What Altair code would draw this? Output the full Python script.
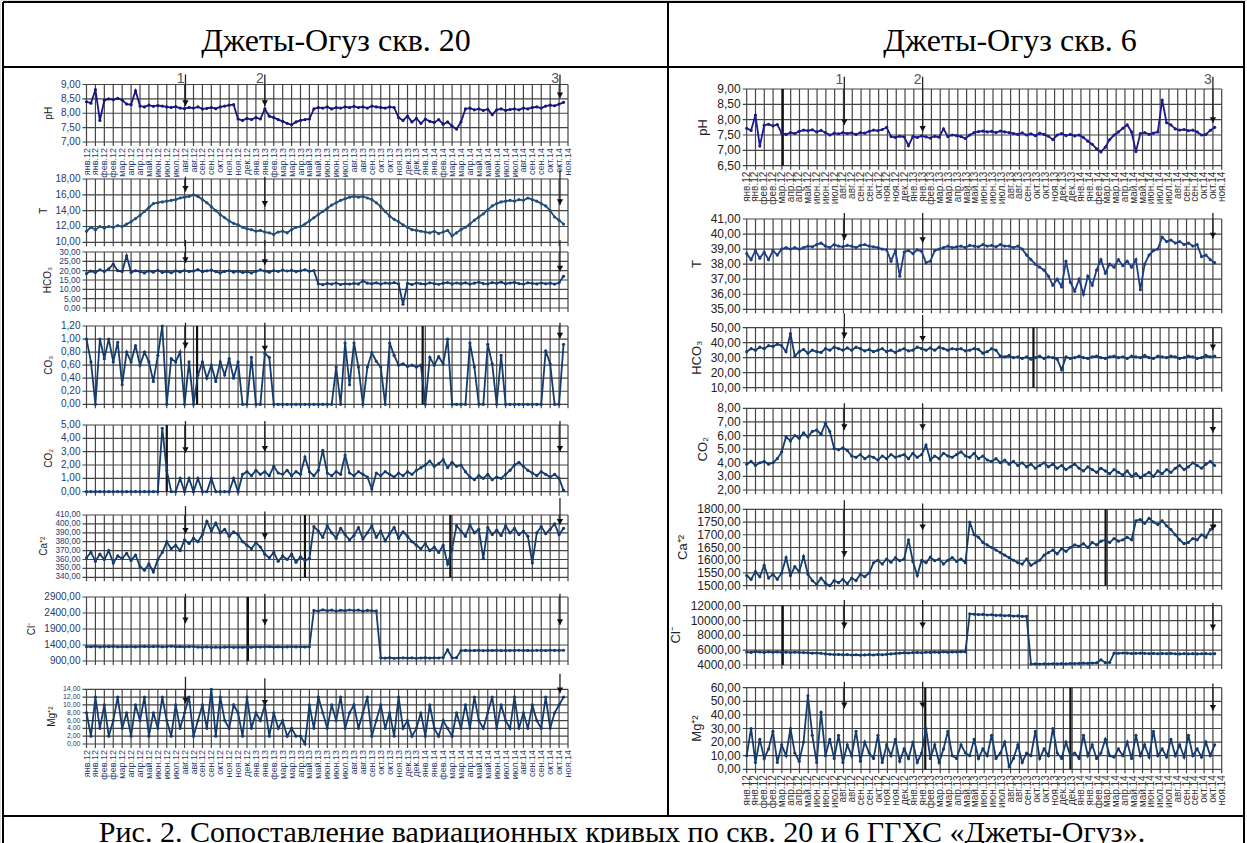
import altair as alt
import pandas as pd

W, H = 1247, 843
N_INT = 54  # grid steps along the date axis

MONTHS = ["янв.12", "янв.12", "фев.12", "фев.12", "мар.12", "апр.12", "апр.12", "май.12",
          "июн.12", "июн.12", "июл.12", "авг.12", "авг.12", "сен.12", "сен.12", "окт.12",
          "ноя.12", "ноя.12", "дек.12", "янв.13", "янв.13", "фев.13", "мар.13", "мар.13",
          "апр.13", "май.13", "май.13", "июн.13", "июн.13", "июл.13", "авг.13", "авг.13",
          "сен.13", "окт.13", "окт.13", "ноя.13", "дек.13", "дек.13", "янв.14", "янв.14",
          "фев.14", "мар.14", "мар.14", "апр.14", "май.14", "май.14", "июн.14", "июл.14",
          "июл.14", "авг.14", "сен.14", "сен.14", "окт.14", "окт.14", "ноя.14"]

HEAD_L = "Джеты-Огуз скв. 20"
HEAD_R = "Джеты-Огуз скв. 6"
CAPTION = "Рис. 2. Сопоставление вариационных кривых по скв. 20 и 6 ГГХС «Джеты-Огуз»."

# ---------------- скв. 20 ----------------
L_PH = [8.40, 8.35, 8.82, 7.75, 8.45, 8.50, 8.47, 8.52, 8.46, 8.32, 8.30, 8.78,
        8.25, 8.22, 8.28, 8.24, 8.27, 8.25, 8.22, 8.20, 8.23, 8.18, 8.16, 8.20,
        8.18, 8.22, 8.15, 8.17, 8.20, 8.16, 8.22, 8.25, 8.28, 8.30, 7.80, 7.75,
        7.82, 7.78, 7.85, 7.80, 8.15, 7.90, 7.85, 7.78, 7.72, 7.65, 7.60, 7.70,
        7.75, 7.78, 7.80, 8.15, 8.20, 8.18, 8.22, 8.15, 8.20, 8.18, 8.22, 8.20,
        8.24, 8.20, 8.22, 8.18, 8.25, 8.22, 8.20, 8.18, 8.22, 8.20, 7.85, 7.75,
        7.90, 7.70, 7.82, 7.65, 7.80, 7.72, 7.68, 7.78, 7.62, 7.70, 7.55, 7.45,
        7.70, 8.15, 8.18, 8.12, 8.15, 8.10, 8.14, 7.95, 8.12, 8.15, 8.10, 8.13,
        8.15, 8.12, 8.18, 8.15, 8.20, 8.22, 8.18, 8.25, 8.28, 8.26, 8.32, 8.38]
L_T = [11.4, 11.9, 11.6, 12.0, 11.8, 12.0, 11.9, 12.1, 12.0, 12.3, 12.6, 13.0,
       13.4, 13.9, 14.4, 14.9, 15.0, 15.1, 15.2, 15.3, 15.4, 15.6, 15.7, 15.8,
       16.0, 15.8, 15.4, 15.0, 14.5, 14.0, 13.5, 13.1, 12.7, 12.4, 12.2, 11.9,
       11.7, 11.6, 11.4, 11.5, 11.3, 11.2, 11.0, 11.3, 11.4, 11.2, 11.6, 11.9,
       12.0, 12.3, 12.7, 13.1, 13.5, 13.9, 14.3, 14.7, 15.0, 15.3, 15.5, 15.7,
       15.8, 15.7, 15.8, 15.6, 15.4, 15.0, 14.5, 13.9, 13.3, 12.9, 12.6, 12.2,
       11.9, 11.6, 11.5, 11.4, 11.3, 11.2, 11.4, 11.1, 11.3, 11.5, 10.8, 11.2,
       11.6, 11.9, 12.3, 12.8, 13.2, 13.6, 14.1, 14.6, 14.9, 15.1, 15.2, 15.3,
       15.2, 15.4, 15.3, 15.6, 15.4, 15.2, 14.9, 14.6, 14.0, 13.2, 12.8, 12.3]
L_HCO3 = [18.5, 19.8, 19.0, 20.5, 19.5, 21.0, 23.5, 20.0, 19.5, 28.0, 19.0, 20.0,
          19.5, 18.8, 19.8, 19.2, 20.2, 19.0, 19.6, 18.9, 19.9, 19.3, 20.1, 19.5,
          19.8, 20.6, 19.4, 19.9, 20.3, 19.5, 18.8, 19.6, 20.0, 19.2, 19.7, 19.0,
          19.4, 18.8, 19.6, 20.4, 19.8, 19.2, 20.0, 19.6, 20.3, 19.8, 20.2, 19.5,
          19.9, 20.5, 19.7, 20.0, 13.0, 12.5, 13.2, 12.8, 13.4, 12.6, 13.0, 12.8,
          13.2, 12.9, 14.5, 13.3, 13.0, 13.5, 12.8, 13.4, 13.1, 13.6, 12.9, 2.0,
          13.2, 12.6, 13.4, 13.0, 12.8, 13.5, 13.1, 12.7, 13.3, 13.6, 12.9, 13.4,
          13.0, 13.5, 12.8, 13.3, 13.8, 13.1, 12.9, 13.6, 13.2, 13.9, 13.0, 13.4,
          13.7, 13.1, 12.8, 13.5, 13.2, 12.9, 13.4, 13.0, 13.3, 12.8, 13.5, 17.0]
L_CO3 = [1.00, 0.65, 0.00, 1.00, 0.70, 1.00, 0.65, 0.95, 0.30, 0.80, 0.65, 0.90,
         0.60, 0.80, 0.65, 0.35, 0.75, 1.20, 0.00, 0.70, 0.65, 0.80, 0.00, 0.65,
         0.00, 0.45, 0.65, 0.40, 0.60, 0.35, 0.65, 0.45, 0.70, 0.40, 0.65, 0.00,
         0.00, 0.72, 0.00, 0.00, 0.78, 0.72, 0.00, 0.00, 0.00, 0.00, 0.00, 0.00,
         0.00, 0.00, 0.00, 0.00, 0.00, 0.00, 0.00, 0.00, 0.57, 0.00, 0.94, 0.30,
         0.94, 0.57, 0.00, 0.57, 0.79, 0.66, 0.57, 0.00, 0.94, 0.75, 0.60, 0.62,
         0.58, 0.60, 0.57, 0.60, 0.00, 0.72, 0.60, 0.73, 0.62, 1.00, 0.00, 0.00,
         0.00, 0.00, 0.94, 0.57, 0.00, 0.00, 0.92, 0.62, 0.00, 0.75, 0.00, 0.00,
         0.00, 0.00, 0.00, 0.00, 0.00, 0.00, 0.00, 0.82, 0.62, 0.00, 0.00, 0.92]
L_CO2 = [0, 0, 0, 0, 0, 0, 0, 0, 0, 0, 0, 0,
         0, 0, 0, 0, 0, 4.75, 1.6, 0, 0, 1.0, 0, 1.0,
         0, 1.0, 0, 0, 1.0, 0, 0, 0, 0, 1.0, 0, 1.3,
         1.5, 1.2, 1.6, 1.3, 1.5, 1.2, 1.9, 1.4, 1.3, 1.6, 1.2, 1.5,
         1.3, 2.6, 1.5, 1.2, 1.6, 3.1, 1.4, 1.2, 1.5, 1.3, 2.75, 1.4,
         1.2, 1.5, 1.3, 1.1, 0.2, 1.4, 1.2, 1.5, 1.3, 1.1, 1.4, 1.2,
         1.5, 1.3, 1.6, 1.8, 2.0, 2.3, 1.9, 2.1, 2.4, 1.8, 2.2, 1.9,
         2.0, 1.5, 1.1, 0.9, 1.2, 1.0, 1.3, 0.9, 1.1, 1.0, 1.3, 1.6,
         2.0, 2.2, 1.9, 1.6, 1.4, 1.2, 1.5, 1.3, 1.1, 1.3, 1.0, 0.1]
L_CA = [362, 368, 358, 366, 360, 370, 356, 364, 361, 367, 359, 365,
        352, 348, 355, 346, 360, 368, 380, 372, 376, 370, 382, 378,
        384, 380, 388, 403, 392, 401, 390, 394, 386, 391, 388, 380,
        376, 372, 379, 374, 366, 362, 368, 358, 364, 360, 366, 357,
        363, 359, 361, 397, 392, 385, 398, 390, 384, 395, 388, 382,
        387, 396, 383, 390, 398, 385, 392, 381, 389, 396, 384, 391,
        386, 380, 376, 372, 378, 370, 374, 368, 376, 355, 372, 398,
        392, 386, 399, 390, 394, 361, 396, 388, 393, 387, 398, 390,
        395, 388, 392, 386, 356, 390, 397, 389, 394, 400, 388, 395]
L_CL = [1350, 1345, 1360, 1340, 1352, 1348, 1355, 1342, 1350, 1346, 1352, 1340,
        1348, 1355, 1345, 1350, 1358, 1342, 1350, 1362, 1345, 1350, 1340, 1348,
        1352, 1335, 1330, 1340, 1328, 1335, 1325, 1332, 1340, 1328, 1335, 1330,
        1338, 1330, 1342, 1335, 1340, 1345, 1338, 1342, 1335, 1340, 1345, 1340,
        1342, 1338, 1345, 2480, 2460, 2500, 2470, 2490, 2460, 2485, 2470, 2495,
        2475, 2490, 2460, 2480, 2470, 2465, 1000, 990, 1005, 985, 995, 1000,
        990, 1000, 985, 995, 1005, 990, 1000, 995, 1010, 1250, 1000, 1005,
        1225, 1230, 1222, 1228, 1235, 1225, 1230, 1228, 1235, 1226, 1232, 1228,
        1230, 1235, 1228, 1232, 1226, 1234, 1230, 1228, 1236, 1230, 1232, 1235]
L_MG = [8, 2, 12, 4, 10, 2, 6, 12, 4, 8, 2, 10,
        6, 12, 2, 8, 4, 12, 6, 2, 10, 4, 8, 12,
        2, 6, 10, 4, 14, 2, 12, 6, 4, 10, 8, 2,
        12, 4, 8, 6, 10, 2, 8, 4, 6, 2, 4, 2,
        2, 0, 10, 4, 12, 8, 4, 10, 6, 12, 4, 8,
        10, 4, 8, 12, 2, 6, 10, 4, 8, 2, 12, 4,
        6, 2, 4, 8, 2, 10, 4, 2, 6, 4, 2, 8,
        4, 10, 4, 12, 6, 4, 8, 12, 4, 10, 6, 4,
        12, 4, 8, 4, 10, 6, 4, 12, 4, 8, 10, 12]

# ---------------- скв. 6 ----------------
R_PH = [7.72, 7.65, 8.15, 7.14, 7.82, 7.85, 7.80, 7.84, 7.56, 7.52, 7.58, 7.55,
        7.62, 7.66, 7.64, 7.67, 7.60, 7.65, 7.58, 7.50, 7.56, 7.54, 7.58, 7.55,
        7.57, 7.52, 7.58, 7.56, 7.62, 7.66, 7.64, 7.68, 7.75, 7.45, 7.42, 7.46,
        7.44, 7.15, 7.45, 7.42, 7.47, 7.44, 7.40, 7.46, 7.43, 7.70, 7.45, 7.50,
        7.48, 7.45, 7.39, 7.50, 7.58, 7.61, 7.63, 7.60, 7.62, 7.58, 7.63, 7.60,
        7.58, 7.55, 7.52, 7.57, 7.50, 7.54, 7.48, 7.56, 7.52, 7.46, 7.35, 7.50,
        7.55, 7.48, 7.52, 7.47, 7.50, 7.42, 7.30, 7.20, 7.05, 6.95, 7.10, 7.35,
        7.50, 7.60, 7.72, 7.83, 7.60, 6.96, 7.55, 7.58, 7.52, 7.56, 7.60, 8.64,
        7.90, 7.83, 7.70, 7.66, 7.68, 7.64, 7.66, 7.60, 7.50, 7.52, 7.65, 7.75]
R_T = [38.7, 38.3, 38.9, 38.4, 38.8, 38.3, 38.9, 38.6, 39.0, 39.1, 39.0, 39.1,
       39.0, 39.1, 39.2, 39.15, 39.3, 39.4, 39.2, 39.1, 39.3, 39.2, 39.15, 39.25,
       39.2, 39.1, 39.25, 39.3, 39.2, 39.15, 39.1, 39.0, 38.95, 38.2, 38.9, 37.2,
       38.8, 38.9, 38.7, 38.95, 38.85, 38.1, 38.2, 38.9, 39.0, 39.1, 39.2, 39.1,
       39.15, 39.2, 39.1, 39.25, 39.2, 39.15, 39.3, 39.2, 39.25, 39.15, 39.3, 39.2,
       39.2, 39.1, 39.2, 39.0, 38.6, 38.3, 38.0, 37.8, 37.6, 37.2, 36.6, 37.0,
       36.5, 38.2, 36.8, 36.2, 37.0, 36.0, 37.2, 36.6, 37.6, 38.3, 37.4, 38.0,
       37.8, 38.3, 37.9, 38.2, 37.8, 38.3, 36.3, 38.0, 38.6, 38.9, 39.0, 39.8,
       39.5, 39.6, 39.4, 39.5, 39.3, 39.4, 39.2, 39.3, 38.5, 38.6, 38.3, 38.1]
R_HCO3 = [34, 36, 35, 37, 36, 38, 37.5, 39, 38, 34, 46, 31,
          34, 35.5, 33, 35, 34, 33.5, 36, 35, 37, 36, 35, 36.5,
          35, 37, 36, 34.5, 35.5, 34, 35, 36, 34, 35, 33.5, 35,
          36, 34.5, 35, 37, 36, 35, 36.5, 35, 37, 36, 35, 36,
          35.5, 36, 34.5, 35, 36, 35.5, 33, 34, 36, 35, 31, 30.5,
          31.5, 30, 30.5, 29.5, 30.5, 29, 30, 31, 29.5, 30.5, 30, 29,
          22, 30.5, 29.5, 30, 31, 30, 29.5, 30.5, 31, 30, 29.5, 30.5,
          31, 30, 30.5, 29.5, 31, 30.5, 30, 31.5, 30, 29.5, 31, 30.5,
          30, 31, 30.5, 29.5, 30, 31, 30.5, 29.5, 30, 31.5, 30.5, 31]
R_CO2 = [3.9, 4.1, 3.8, 4.0, 4.1, 3.9, 4.0, 4.3, 4.8, 5.9, 5.6, 6.0,
         5.8, 6.2, 5.9, 6.3, 6.4, 6.1, 6.9, 6.3, 5.05, 4.95, 5.1, 4.9,
         4.5, 4.4, 4.6, 4.3, 4.5, 4.4, 4.2, 4.5, 4.3, 4.6, 4.4, 4.5,
         4.6, 4.3, 4.7, 4.4, 4.6, 5.3, 4.2, 4.5, 4.3, 4.7, 4.5, 4.4,
         4.6, 4.8, 4.5, 4.4, 4.7, 4.3, 4.5, 4.2, 4.1, 4.3, 4.0, 4.2,
         3.9, 4.1, 3.8, 4.0, 3.7, 3.9, 3.6, 3.8, 4.0, 3.7, 3.9, 3.6,
         3.8, 3.5, 3.7, 3.9, 3.6, 3.4, 3.7, 3.5, 3.3, 3.6, 3.4, 3.2,
         3.5, 3.3, 3.1, 3.4, 3.0, 3.2, 2.9, 3.1, 3.3, 3.0, 3.4, 3.2,
         3.5, 3.3, 3.6, 3.8, 3.5, 3.7, 4.0, 3.8, 3.6, 3.9, 4.1, 3.8]
R_CA = [1540, 1525, 1555, 1535, 1580, 1530, 1545, 1525, 1550, 1610, 1540, 1575,
        1555, 1615, 1545, 1520, 1505, 1530, 1510, 1500, 1520, 1512, 1525, 1508,
        1530, 1520, 1545, 1535, 1550, 1590, 1600, 1585, 1605, 1592, 1610, 1598,
        1605, 1680, 1595, 1540, 1600, 1590, 1612, 1598, 1605, 1585, 1600, 1610,
        1595, 1605, 1590, 1750, 1700, 1690, 1670, 1660, 1650, 1640, 1630, 1620,
        1610, 1600, 1590, 1585, 1605, 1580, 1590, 1600, 1620, 1630, 1640, 1625,
        1645, 1635, 1650, 1660, 1655, 1665, 1650, 1670, 1660, 1675, 1680, 1670,
        1685, 1675, 1680, 1690, 1680, 1755, 1760, 1745, 1765, 1750, 1740, 1755,
        1735, 1720, 1700, 1680, 1665, 1670, 1685, 1680, 1700, 1690, 1720, 1735]
R_CL = [5750, 5700, 5800, 5750, 5700, 5780, 5720, 5760, 5700, 5740, 5690, 5720,
        5700, 5680, 5650, 5600, 5620, 5580, 5500, 5450, 5400, 5420, 5380, 5400,
        5350, 5380, 5330, 5360, 5400, 5350, 5420, 5380, 5450, 5500, 5550, 5600,
        5650, 5620, 5680, 5700, 5650, 5720, 5700, 5750, 5700, 5780, 5720, 5760,
        5750, 5800, 5780, 10900, 10850, 10800, 10820, 10750, 10780, 10700, 10720, 10650,
        10680, 10600, 10620, 10550, 10580, 4130, 4150, 4120, 4160, 4140, 4170, 4150,
        4180, 4160, 4200, 4190, 4220, 4250, 4230, 4270, 4300, 4700, 4320, 4350,
        5600, 5580, 5620, 5600, 5550, 5580, 5600, 5570, 5540, 5560, 5520, 5550,
        5530, 5560, 5520, 5500, 5540, 5510, 5530, 5500, 5520, 5540, 5510, 5530]
R_MG = [10, 30, 5, 22, 8, 15, 28, 5, 18, 10, 30, 12,
        6, 20, 54, 25, 5, 42, 10, 22, 8, 25, 5, 18,
        10, 28, 6, 20, 12, 8, 25, 5, 18, 10, 22, 6,
        15, 8, 20, 5, 12, 30, 8, 18, 5, 15, 28, 10,
        8, 18, 12, 10, 22, 8, 15, 10, 25, 8, 12, 20,
        2, 8, 18, 5, 12, 10, 28, 8, 15, 10, 30, 12,
        8, 20, 10, 12, 8, 25, 10, 18, 8, 12, 22, 10,
        9, 15, 10, 20, 8, 25, 10, 18, 9, 28, 10, 15,
        9, 22, 10, 18, 9, 25, 10, 15, 9, 20, 10, 18]

# positions of the marked moments 1, 2, 3 on the date axis
ARROWS_L = [11.1, 20.0, 53.1]
ARROWS_R = [11.1, 20.0, 53.0]

GRID = "#444444"
TICK_PX = 4

LEFT_STYLE = dict(x0=86.5, x1=568.0, end=53.5, lfs=10, lc="#1f3a6e", tfs=10,
                  xfs=9, xlc="#2b3f73")
RIGHT_STYLE = dict(x0=746.7, x1=1221.7, end=53.2, lfs=12, lc="#222222", tfs=13,
                   xfs=10, xlc="#333333")

LEFT = [
    dict(title="pH", values=L_PH, dom=(7, 9), step=0.5, box=(84.5, 142),
         arrows=[(9.35, 8.25), (9.35, 8.25), (9.35, 8.52)], color="#16167f", xlabels=True, nums=9.2),
    dict(title="T", values=L_T, dom=(10, 18), step=2, box=(179, 242.3),
         arrows=[(18.3, 16.4), (18.3, 14.5), (19.2, 14.7)], color="#1f4e79"),
    dict(title="HCO₃", values=L_HCO3, dom=(0, 30), step=5, box=(252, 308), lfs=8.5,
         arrows=[(36.4, 24.1), (36.4, 23.0), (36.4, 19.5)]),
    dict(title="CO₃", values=L_CO3, dom=(0, 1.2), step=0.2, box=(326, 404.3),
         arrows=[(1.25, 0.86), (1.25, 0.81), (1.25, 1.01)], bold=[12.4, 37.7]),
    dict(title="CO₂", values=L_CO2, dom=(0, 5), step=1, box=(425, 491.7),
         arrows=[(5.3, 2.9), (5.3, 3.0), (5.3, 3.0)], bold=[9.0]),
    dict(title="Ca⁺²", values=L_CA, dom=(340, 410), step=10, box=(515, 577.3), lfs=8.2,
         arrows=[(420, 389), (414, 383), (429, 399)], bold=[24.5, 40.8]),
    dict(title="Cl⁻", values=L_CL, dom=(900, 2900), step=500, box=(597, 661),
         arrows=[(3000, 2080), (3000, 2025), (3000, 2025)], bold=[18.1]),
    dict(title="Mg⁺²", values=L_MG, dom=(0, 14), step=2, box=(689.3, 744), lfs=7,
         arrows=[(17.2, 10.4), (16.8, 9.8), (18.0, 13.0)], xlabels=True),
]

RIGHT = [
    dict(title="pH", values=R_PH, dom=(6.5, 9), step=0.5, box=(89, 165.7),
         arrows=[(9.4, 7.83), (9.4, 7.61), (9.4, 7.89)], color="#1c1c8c", xlabels=True,
         nums=9.3, bold=[4.1]),
    dict(title="T", values=R_T, dom=(35, 41), step=1, box=(219, 309.3),
         arrows=[(41.4, 39.6), (41.4, 39.4), (41.4, 39.7)], color="#1d3f86"),
    dict(title="HCO₃", values=R_HCO3, dom=(10, 50), step=10, box=(327.7, 387.7),
         arrows=[(59.6, 42.9), (58.5, 40.7), (50, 35)], bold=[32.6]),
    dict(title="CO₂", values=R_CO2, dom=(2, 8), step=1, box=(408.3, 490),
         arrows=[(8.37, 6.4), (8.37, 6.4), (8.0, 6.2)]),
    dict(title="Ca⁺²", values=R_CA, dom=(1500, 1800), step=50, box=(509.3, 585.7),
         arrows=[(1836, 1614), (1823, 1718), (1800, 1718)], bold=[40.8]),
    dict(title="Cl⁻", values=R_CL, dom=(4000, 12000), step=2000, box=(605.7, 665),
         arrows=[(12770, 8950), (12770, 8950), (12400, 8700)], bold=[4.1]),
    dict(title="Mg⁺²", values=R_MG, dom=(0, 60), step=10, box=(687.7, 769.3),
         arrows=[(64.4, 44.9), (64.4, 44.9), (63, 43)], xlabels=True, bold=[20.3, 36.8]),
]


def ticks(lo, hi, step):
    n = int(round((hi - lo) / step))
    return [round(lo + k * step, 6) for k in range(n + 1)]


def fmt(v):
    return f"{v:.2f}".replace(".", ",")


def panel(spec, st, arrow_pos):
    x0, x1 = st["x0"], st["x1"]
    top, bottom = spec["box"]
    lo, hi = spec["dom"]
    color = spec.get("color", "#143c6e")
    lfs = spec.get("lfs", st["lfs"])
    xs = alt.Scale(domain=[0, N_INT], range=[x0, x1], nice=False, zero=False)
    ys = alt.Scale(domain=[lo, hi], range=[bottom, top], nice=False, zero=False)
    yt = ticks(lo, hi, spec["step"])
    # outward tick length expressed in each scale's units
    ext_x = TICK_PX * N_INT / (x1 - x0)
    ext_y = TICK_PX * (hi - lo) / (bottom - top)

    X = lambda f: alt.X(f, scale=xs, axis=None)
    Y = lambda f: alt.Y(f, scale=ys, axis=None)

    vals = spec["values"]
    n = len(vals)
    series = pd.DataFrame({"i": [k * st["end"] / (n - 1) for k in range(n)], "v": vals})
    labels = [fmt(v) for v in yt]
    hgrid = pd.DataFrame({"v": yt, "a": [-ext_x] * len(yt), "b": [N_INT] * len(yt),
                          "z": [0] * len(yt), "t": labels})
    vgrid = pd.DataFrame({"i": list(range(N_INT + 1)), "lo": lo - ext_y, "hi": hi,
                          "base": lo, "t": MONTHS})
    arr = pd.DataFrame({"i": arrow_pos,
                        "y0": [a[0] for a in spec["arrows"]],
                        "y1": [a[1] for a in spec["arrows"]]})

    layers = [
        alt.Chart(hgrid).mark_rule(color=GRID, strokeWidth=1.2).encode(
            x=X("a:Q"), x2=alt.X2("b"), y=Y("v:Q")),
        alt.Chart(vgrid).mark_rule(color=GRID, strokeWidth=1.2).encode(
            x=X("i:Q"), y=Y("lo:Q"), y2=alt.Y2("hi")),
        # value labels on the left edge
        alt.Chart(hgrid).mark_text(align="right", baseline="middle", dx=-(TICK_PX + 2),
                                   fontSize=lfs, color=st["lc"],
                                   font="Liberation Sans").encode(
            x=X("z:Q"), y=Y("v:Q"), text="t:N"),
    ]
    # axis title, placed left of the widest value label
    maxw = max(len(t) for t in labels) * 0.56 * lfs
    title_df = pd.DataFrame({"z": [0], "m": [(lo + hi) / 2], "t": [spec["title"]]})
    layers.append(alt.Chart(title_df).mark_text(
        angle=270, align="center", baseline="middle",
        dy=-(TICK_PX + 2 + maxw + 4 + st["tfs"] * 0.5),
        fontSize=st["tfs"], color="#222222", font="Liberation Sans").encode(
        x=X("z:Q"), y=Y("m:Q"), text="t:N"))
    if spec.get("xlabels"):
        layers.append(alt.Chart(vgrid).mark_text(
            angle=270, align="right", baseline="middle", dx=-(TICK_PX + 2),
            fontSize=st["xfs"], color=st["xlc"], font="Liberation Sans").encode(
            x=X("i:Q"), y=Y("base:Q"), text="t:N"))
    if spec.get("bold"):
        bold = pd.DataFrame({"i": spec["bold"], "lo": lo, "hi": hi})
        layers.append(alt.Chart(bold).mark_rule(color="#111111", strokeWidth=2.2).encode(
            x=X("i:Q"), y=Y("lo:Q"), y2=alt.Y2("hi")))
    layers.append(alt.Chart(series).mark_line(
        color=color, strokeWidth=1.8,
        point=alt.OverlayMarkDef(color=color, size=10, filled=True, opacity=1)).encode(
        x=X("i:Q"), y=Y("v:Q")))
    layers.append(alt.Chart(arr).mark_rule(color="#222222", strokeWidth=1.3).encode(
        x=X("i:Q"), y=Y("y0:Q"), y2=alt.Y2("y1")))
    layers.append(alt.Chart(arr).mark_point(shape="triangle-down", filled=True, size=40,
                                            color="#111111", opacity=1, yOffset=-3).encode(
        x=X("i:Q"), y=Y("y1:Q")))
    if spec.get("nums"):
        nums = pd.DataFrame({"i": arrow_pos, "y": [spec["nums"]] * 3, "t": ["1", "2", "3"]})
        layers.append(alt.Chart(nums).mark_text(align="right", baseline="middle", dx=-1,
                                                fontSize=14, color="#555555",
                                                font="Liberation Sans").encode(
            x=X("i:Q"), y=Y("y:Q"), text="t:N"))
    return alt.layer(*layers)


ONE = pd.DataFrame({"k": [0]})


def hline(y, xa, xb):
    return alt.Chart(ONE).mark_rule(color="black", strokeWidth=2).encode(
        x=alt.value(xa), x2=alt.value(xb), y=alt.value(y))


def vline(x, ya, yb):
    return alt.Chart(ONE).mark_rule(color="black", strokeWidth=2).encode(
        x=alt.value(x), y=alt.value(ya), y2=alt.value(yb))


def label(text, x, y, size):
    return alt.Chart(ONE).mark_text(font="Liberation Serif", fontSize=size, align="center",
                                    baseline="alphabetic", color="black").encode(
        x=alt.value(x), y=alt.value(y), text=alt.value(text))


frame = [
    hline(2, 3, 1245), hline(67, 3, 1245), hline(816, 3, 1245),
    vline(3, 2, 843), vline(1244, 2, 843), vline(668, 2, 816),
    label(HEAD_L, 336, 51, 32), label(HEAD_R, 1010, 51, 32),
    label(CAPTION, 622, 842, 30),
]

panels = [panel(s, LEFT_STYLE, ARROWS_L) for s in LEFT] + \
         [panel(s, RIGHT_STYLE, ARROWS_R) for s in RIGHT]

chart = alt.layer(*frame, *panels).resolve_scale(
    x="independent", y="independent"
).properties(
    width=W, height=H, padding=0, autosize=alt.AutoSizeParams(type="none")
).configure_view(strokeWidth=0).configure(background="white")

chart.save("out.html", embed_options={"renderer": "svg", "actions": False})
